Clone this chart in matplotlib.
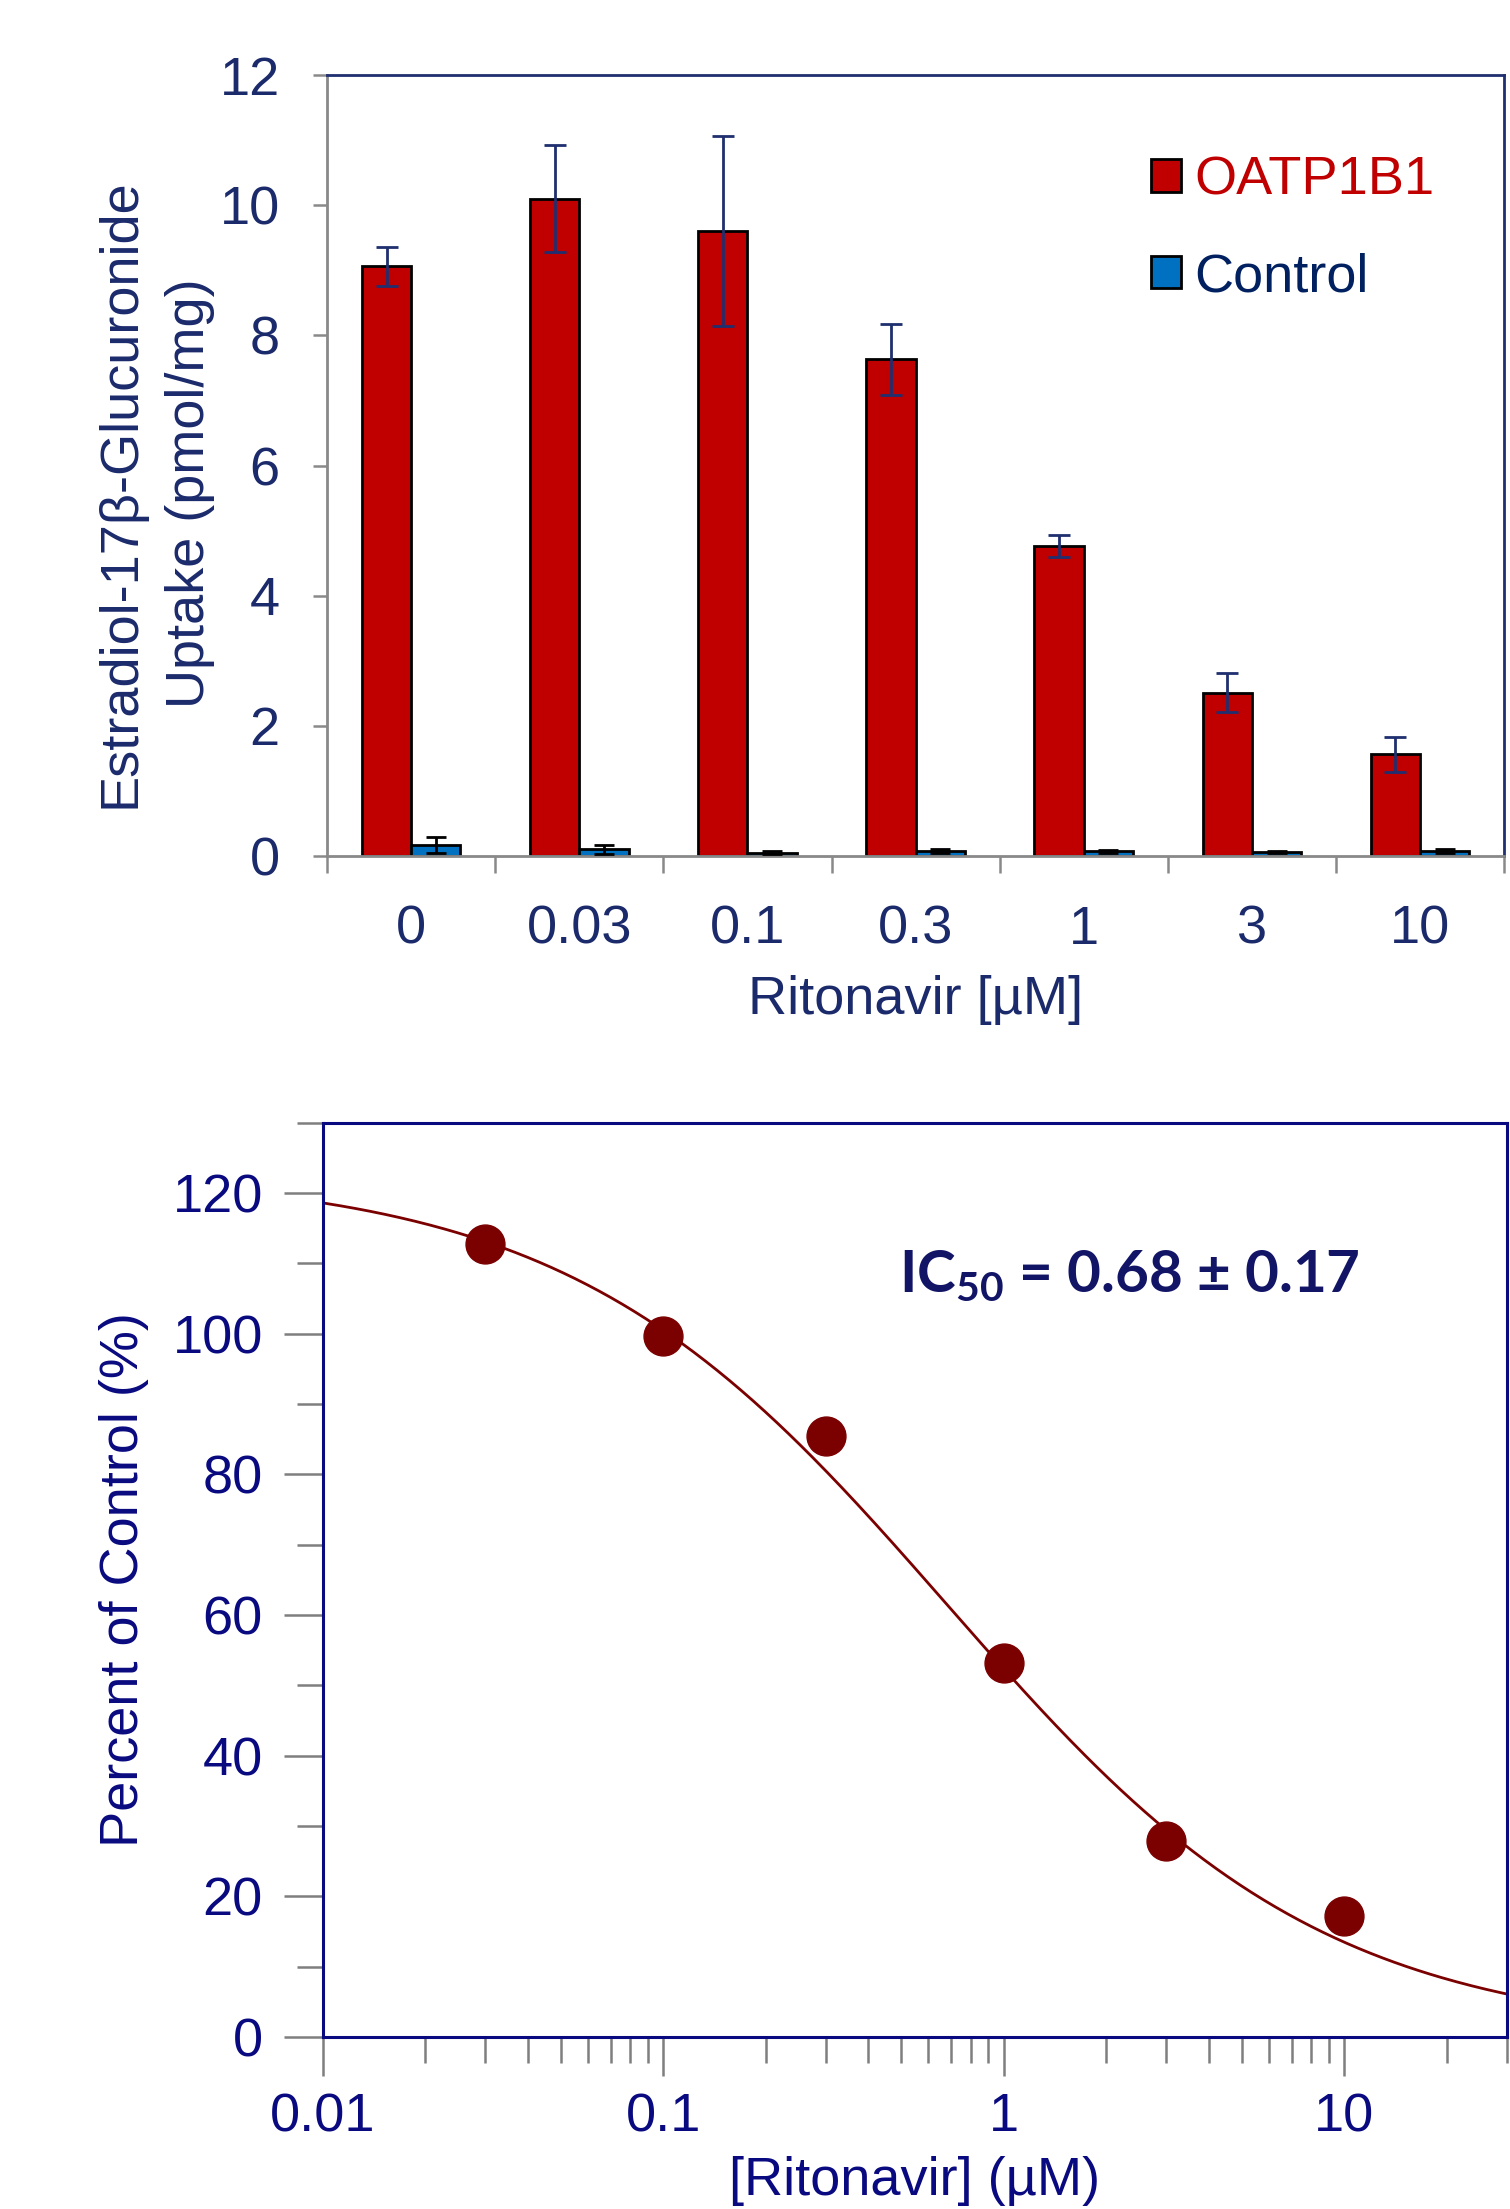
import numpy as np
import matplotlib
matplotlib.use('Agg')
import matplotlib.pyplot as plt
from matplotlib.ticker import LogLocator, NullFormatter

plt.rcParams['font.family'] = ['Liberation Sans', 'DejaVu Sans']
plt.rcParams['mathtext.fontset'] = 'custom'
plt.rcParams['mathtext.rm'] = 'Lato'
plt.rcParams['mathtext.bf'] = 'Lato:bold'

# top panel: uptake per ritonavir concentration
conc_labels = ['0', '0.03', '0.1', '0.3', '1', '3', '10']
oatp_mean = [9.06, 10.1, 9.6, 7.63, 4.76, 2.51, 1.56]
oatp_err = [0.30, 0.82, 1.46, 0.55, 0.17, 0.30, 0.27]
ctrl_mean = [0.17, 0.10, 0.05, 0.07, 0.07, 0.06, 0.08]
ctrl_err = [0.12, 0.07, 0.02, 0.03, 0.02, 0.02, 0.03]

# bottom panel: percent of control and fitted curve
conc = [0.03, 0.1, 0.3, 1, 3, 10]
pct_control = [112.8, 99.6, 85.4, 53.2, 27.8, 17.2]
ic50 = 0.68
hill_top = 123
hill_slope = 0.78

navy_top = '#1B2A6B'
navy_bot = '#0A0A80'
gray = '#898989'
fs = 39

fig = plt.figure(figsize=(15.1, 22.09), dpi=100)

# ---- top bar chart ----
ax1 = fig.add_axes([0.2166, 0.6125, 0.7795, 0.3535])
x = np.arange(len(conc_labels))
w = 0.293
b1 = ax1.bar(x - w / 2, oatp_mean, w, color='#C00000', edgecolor='black', linewidth=2,
             label='OATP1B1', zorder=2)
b2 = ax1.bar(x + w / 2, ctrl_mean, w, color='#0070C0', edgecolor='black', linewidth=2,
             label='Control', zorder=2)
ax1.errorbar(x - w / 2, oatp_mean, yerr=oatp_err, fmt='none', ecolor='#1F2F6F',
             elinewidth=2, capsize=8, capthick=2, zorder=3)
ax1.errorbar(x + w / 2, ctrl_mean, yerr=ctrl_err, fmt='none', ecolor='black',
             elinewidth=2, capsize=7, capthick=2, zorder=3)

ax1.set_xlim(-0.5, len(conc_labels) - 0.5)
ax1.set_ylim(0, 12)
ax1.set_yticks(range(0, 13, 2))
ax1.set_xticks(np.arange(-0.5, len(conc_labels), 1))
ax1.set_xticks(x, minor=True)
ax1.set_xticklabels(conc_labels, minor=True)
ax1.tick_params(axis='x', which='major', length=12, width=1.8, color=gray, labelbottom=False)
ax1.tick_params(axis='x', which='minor', length=0, pad=35, labelsize=fs, labelcolor=navy_top)
ax1.tick_params(axis='y', length=10, width=1.8, color=gray, pad=24, labelsize=fs,
                labelcolor=navy_top)
for s in ['left', 'bottom']:
    ax1.spines[s].set_color(gray)
    ax1.spines[s].set_linewidth(2)
for s in ['top', 'right']:
    ax1.spines[s].set_color('#1F2F6F')
    ax1.spines[s].set_linewidth(2)

ax1.set_xlabel('Ritonavir [µM]', fontsize=fs, color=navy_top)
ax1.xaxis.set_label_coords(0.5, -0.184)
ax1.xaxis.label.set_va('center')
fig.text(0.1026, 0.7768, 'Estradiol-17β-Glucuronide\nUptake (pmol/mg)', rotation=90,
         ha='center', va='center', multialignment='center', fontsize=fs, color=navy_top,
         linespacing=1.5)

leg = ax1.legend(handles=[b1, b2], loc='upper left', bbox_to_anchor=(0.70, 0.897),
                 frameon=False, fontsize=fs, handlelength=0.55, handleheight=0.55,
                 handletextpad=0.25, labelspacing=0.86, borderpad=0, borderaxespad=0)
for t, c in zip(leg.get_texts(), ['#C00000', '#002060']):
    t.set_color(c)

# ---- bottom dose-response chart ----
ax2 = fig.add_axes([0.2137, 0.0779, 0.7843, 0.4139])
xx = np.logspace(-2, np.log10(30), 400)
yy = hill_top / (1 + (xx / ic50) ** hill_slope)
ax2.plot(xx, yy, color='#7B0000', lw=2, zorder=2)
ax2.plot(conc, pct_control, 'o', color='#7B0000', ms=28, zorder=3)

ax2.set_xscale('log')
ax2.set_xlim(0.01, 30)
ax2.set_ylim(0, 130)
ax2.set_xticks([0.01, 0.1, 1, 10])
ax2.set_xticklabels(['0.01', '0.1', '1', '10'])
ax2.xaxis.set_minor_locator(LogLocator(base=10, subs=range(2, 10)))
ax2.xaxis.set_minor_formatter(NullFormatter())
ax2.set_yticks(range(0, 121, 20))
ax2.set_yticks(range(10, 131, 20), minor=True)
ax2.tick_params(which='major', length=28, width=1.8, color='#7F7F7F', labelsize=fs,
                labelcolor=navy_bot)
ax2.tick_params(which='minor', length=19, width=1.8, color='#7F7F7F')
ax2.tick_params(axis='y', pad=15)
ax2.tick_params(axis='x', pad=12)
for s in ax2.spines.values():
    s.set_color(navy_bot)
    s.set_linewidth(2.2)

ax2.set_xlabel('[Ritonavir] (µM)', fontsize=fs, color=navy_bot)
ax2.xaxis.set_label_coords(0.5, -0.1575)
ax2.xaxis.label.set_va('center')
ax2.set_ylabel('Percent of Control (%)', fontsize=fs, color=navy_bot)
ax2.yaxis.set_label_coords(-0.1677, 0.5)
ax2.yaxis.label.set_va('center')

ax2.text(0.4867, 0.8147, 'IC$_{\\mathbf{50}}$ = 0.68 ± 0.17', transform=ax2.transAxes,
         ha='left', va='baseline', fontsize=42, fontweight='bold', family='Lato',
         color='#121466')

fig.savefig('out.png', dpi=100)
